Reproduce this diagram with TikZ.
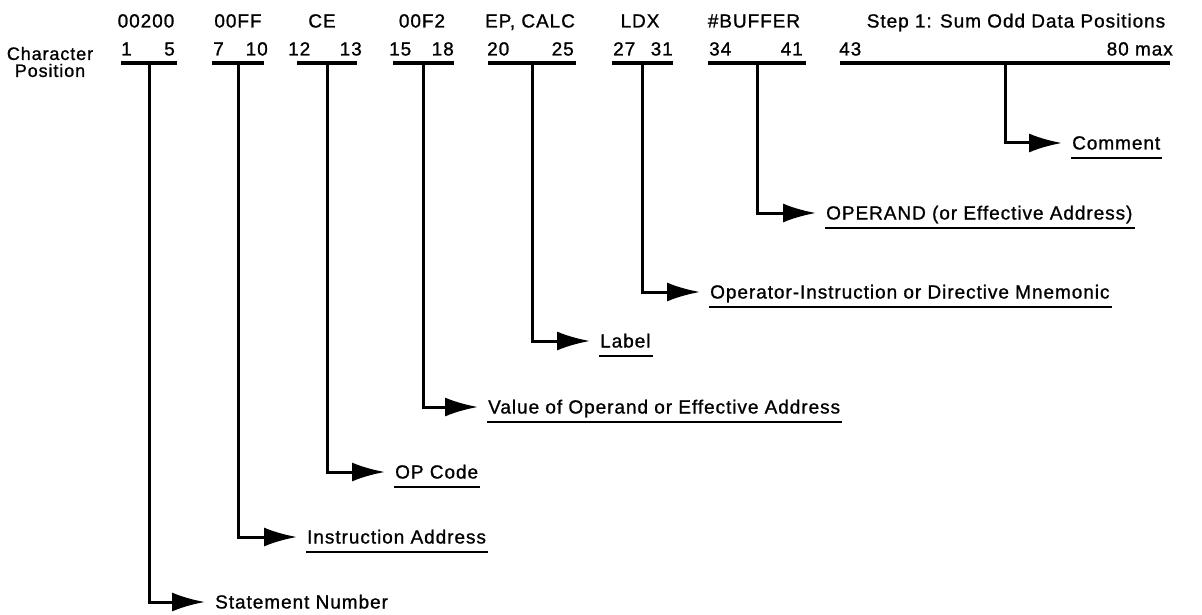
\documentclass[tikz,border=0pt]{standalone}
\usepackage{fontspec}
\setmainfont{Liberation Sans}[LetterSpace=5,FakeBold=1]
\usetikzlibrary{arrows.meta}
\begin{document}
\begin{tikzpicture}[x=1pt,y=-1pt,
  bar/.style={line width=3.5pt},
  conn/.style={line width=3pt,-{Latex[length=33pt,width=19pt]},shorten >=10pt},
  txt/.style={font=\fontsize{19}{22}\selectfont,inner sep=0pt,text height=15pt,text depth=2pt},
  lab/.style={txt,anchor=west},
  uline/.style={line width=2.5pt}]
\useasboundingbox[fill=white] (0,0) rectangle (1202,615);
% side title
\node[font=\fontsize{18}{17}\selectfont,align=center,inner sep=0pt] (cp) at (50,62) {Character\\Position};
% fields: bars
\foreach \n/\l/\r in {a/121/177,b/212/264,c/297/357,d/393/454,e/488/576,f/612/673,g/708/806,h/840/1170}{
  \coordinate (\n L) at (\l,63);
  \coordinate (\n R) at (\r,63);
  \coordinate (\n M) at ({(\l+\r)/2},63);
  \draw[bar] (\n L) -- (\n R);
}
% headers
\node[txt] (ha) at (146,21) {00200};
\node[txt] (hb) at (238,21) {00FF};
\node[txt] (hc) at (322,21) {CE};
\node[txt] (hd) at (422,21) {00F2};
\node[txt] (he) at (530,21) {EP, CALC};
\node[txt] (hf) at (640,21) {LDX};
\node[txt] (hg) at (754,21) {\#BUFFER};
\node[txt] (hh) at (1016,21) {Step 1: Sum Odd Data Positions};
% position numbers
\node[txt,anchor=west] (na1) at (121,49) {1};
\node[txt,anchor=east] (na2) at (175,49) {5};
\node[txt,anchor=west] (nb1) at (213,49) {7};
\node[txt,anchor=east] (nb2) at (268,49) {10};
\node[txt,anchor=west] (nc1) at (288,49) {12};
\node[txt,anchor=east] (nc2) at (362,49) {13};
\node[txt,anchor=west] (nd1) at (389,49) {15};
\node[txt,anchor=east] (nd2) at (454,49) {18};
\node[txt,anchor=west] (ne1) at (487,49) {20};
\node[txt,anchor=east] (ne2) at (574,49) {25};
\node[txt,anchor=west] (nf1) at (613,49) {27};
\node[txt,anchor=east] (nf2) at (673,49) {31};
\node[txt,anchor=west] (ng1) at (709,49) {34};
\node[txt,anchor=east] (ng2) at (803,49) {41};
\node[txt,anchor=west] (nh1) at (839,49) {43};
\node[txt,anchor=east] (nh2) at (1173,49) {80 max};
% descriptions
\node[lab] (la) at (215,602) {Statement Number};
\node[lab] (lb) at (307,537) {Instruction Address};
\node[lab] (lc) at (395,472) {OP Code};
\node[lab] (ld) at (488,407) {Value of Operand or Effective Address};
\node[lab] (le) at (600,341) {Label};
\node[lab] (lf) at (710,292) {Operator-Instruction or Directive Mnemonic};
\node[lab] (lg) at (826,213) {OPERAND (or Effective Address)};
\node[lab] (lh) at (1072,143) {Comment};
% connectors
\foreach \n in {a,b,c,d,e,f,g,h}{
  \draw[conn] (\n M) |- (l\n.west);
}
% underlines
\foreach \n in {b,c,d,e,f,g,h}{
  \draw[uline] ([shift={(-1pt,-6.5pt)}]l\n.south west) -- ([shift={(2pt,-6.5pt)}]l\n.south east);
}
\end{tikzpicture}
\end{document}
